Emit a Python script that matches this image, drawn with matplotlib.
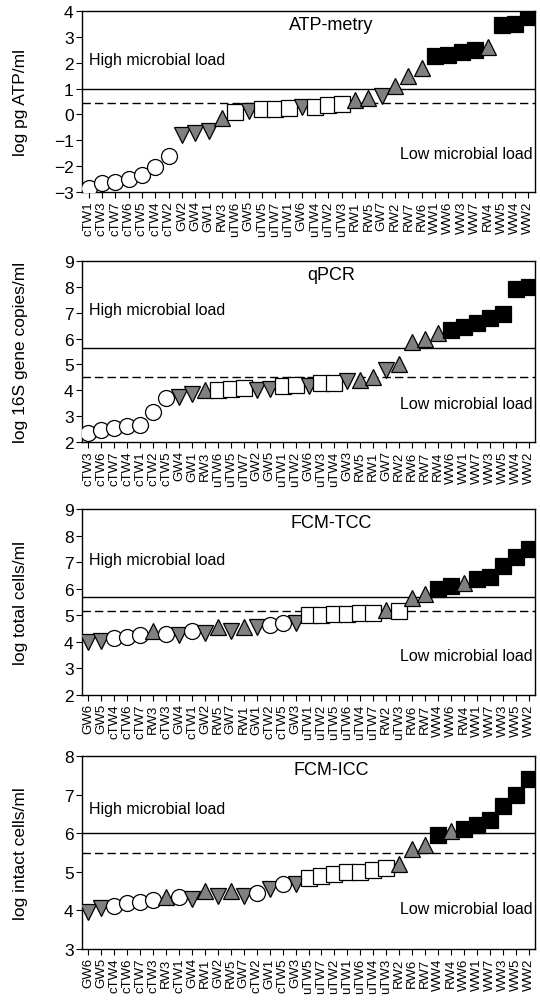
import matplotlib
matplotlib.use("Agg")
import matplotlib.pyplot as plt

plt.rcParams['font.family'] = ['Liberation Sans', 'DejaVu Sans']

# ---------------- data ----------------
atp_labels = ["cTW1", "cTW3", "cTW7", "cTW6", "cTW5", "cTW4", "cTW2", "GW2", "GW4", "GW1",
              "RW3", "uTW6", "GW5", "uTW5", "uTW7", "uTW1", "GW6", "uTW4", "uTW2", "uTW3",
              "RW1", "RW5", "GW7", "RW2", "RW7", "RW6", "WW1", "WW6", "WW3", "WW7",
              "RW4", "WW5", "WW4", "WW2"]
atp_values = [-2.85, -2.65, -2.6, -2.5, -2.35, -2.05, -1.6, -0.8, -0.7, -0.65,
              -0.15, 0.1, 0.15, 0.2, 0.2, 0.25, 0.3, 0.3, 0.35, 0.4,
              0.55, 0.65, 0.7, 1.1, 1.5, 1.8, 2.25, 2.3, 2.4, 2.5,
              2.6, 3.45, 3.5, 3.75]

qpcr_labels = ["cTW3", "cTW6", "cTW7", "cTW4", "cTW1", "cTW2", "cTW5", "GW4", "GW1", "RW3",
               "uTW6", "uTW5", "uTW7", "GW2", "GW5", "uTW1", "uTW2", "GW6", "uTW3", "uTW4",
               "GW3", "RW5", "RW1", "GW7", "RW2", "RW6", "RW7", "RW4", "WW6", "WW1",
               "WW7", "WW3", "WW5", "WW4", "WW2"]
qpcr_values = [2.35, 2.45, 2.55, 2.6, 2.65, 3.15, 3.7, 3.75, 3.85, 4.0,
               4.0, 4.05, 4.1, 4.0, 4.05, 4.15, 4.2, 4.15, 4.3, 4.3,
               4.35, 4.4, 4.5, 4.8, 5.0, 5.85, 6.0, 6.2, 6.35, 6.45,
               6.6, 6.8, 6.95, 7.9, 8.0]

tcc_labels = ["GW6", "GW5", "cTW4", "cTW6", "cTW7", "RW3", "cTW3", "GW4", "cTW1", "GW2",
              "RW5", "GW7", "RW1", "GW1", "cTW2", "cTW5", "GW3", "uTW1", "uTW2", "uTW5",
              "uTW6", "uTW4", "uTW7", "RW2", "uTW3", "RW6", "RW7", "WW4", "WW6", "RW4",
              "WW1", "WW7", "WW3", "WW5", "WW2"]
tcc_values = [4.0, 4.05, 4.15, 4.2, 4.25, 4.4, 4.3, 4.25, 4.4, 4.35,
              4.55, 4.4, 4.55, 4.55, 4.65, 4.7, 4.7, 5.0, 5.0, 5.05,
              5.05, 5.1, 5.1, 5.2, 5.15, 5.65, 5.8, 6.0, 6.1, 6.2,
              6.35, 6.45, 6.85, 7.2, 7.5]

icc_labels = ["GW6", "GW5", "cTW4", "cTW6", "cTW7", "cTW3", "RW3", "cTW1", "GW4", "RW1",
              "GW2", "RW5", "GW7", "cTW2", "GW1", "cTW5", "GW3", "uTW5", "uTW7", "uTW2",
              "uTW1", "uTW6", "uTW4", "uTW3", "RW2", "RW6", "RW7", "WW4", "RW4", "WW6",
              "WW1", "WW7", "WW3", "WW5", "WW2"]
icc_values = [3.95, 4.05, 4.12, 4.18, 4.21, 4.28, 4.36, 4.36, 4.3, 4.5,
              4.37, 4.51, 4.38, 4.44, 4.55, 4.68, 4.68, 4.84, 4.88, 4.95,
              5.0, 5.0, 5.05, 5.1, 5.2, 5.6, 5.7, 5.95, 6.05, 6.1,
              6.2, 6.35, 6.7, 7.0, 7.4]

titles = ["ATP-metry", "qPCR", "FCM-TCC", "FCM-ICC"]
ylabels = ["log pg ATP/ml", "log 16S gene copies/ml", "log total cells/ml", "log intact cells/ml"]
ylims = [(-3, 4), (2, 9), (2, 9), (3, 8)]
high_lines = [1.0, 5.65, 5.7, 6.0]
low_lines = [0.45, 4.5, 5.15, 5.5]

# marker style per sample type
styles = {
    "cTW": dict(marker="o", facecolor="white"),
    "uTW": dict(marker="s", facecolor="white"),
    "GW": dict(marker="v", facecolor="#808080"),
    "RW": dict(marker="^", facecolor="#808080"),
    "WW": dict(marker="s", facecolor="black"),
}

def stype(lbl):
    for k in ("cTW", "uTW", "GW", "RW", "WW"):
        if lbl.startswith(k):
            return k

fig = plt.figure(figsize=(5.4, 10.03), dpi=100)
W, H = 540.0, 1003.0
left, right = 82, 535
boxes = [(12, 193), (262, 443), (510, 696), (757, 950)]

datasets = [(atp_labels, atp_values), (qpcr_labels, qpcr_values),
            (tcc_labels, tcc_values), (icc_labels, icc_values)]

for i, ((labels, vals), (top, bot)) in enumerate(zip(datasets, boxes)):
    ax = fig.add_axes([left / W, 1 - bot / H, (right - left) / W, (bot - top) / H])
    n = len(labels)
    xs = list(range(1, n + 1))
    ax.axhline(high_lines[i], color="black", lw=1.0, zorder=1)
    ax.axhline(low_lines[i], color="black", lw=1.0, ls=(0, (6, 3)), zorder=1)
    for x, v, l in zip(xs, vals, labels):
        st = styles[stype(l)]
        ax.plot([x], [v], linestyle="none", marker=st["marker"], markersize=11.5,
                markerfacecolor=st["facecolor"], markeredgecolor="black",
                markeredgewidth=0.9, zorder=3)
    ax.set_xlim(0.5, n + 0.5)
    ax.set_ylim(*ylims[i])
    ax.set_yticks(range(ylims[i][0], ylims[i][1] + 1))
    ax.set_xticks(xs)
    ax.set_xticklabels(labels, rotation=90, fontsize=9.5)
    ax.tick_params(axis="y", labelsize=12.5, direction="out", length=4, pad=2)
    ax.tick_params(axis="x", direction="out", length=4, pad=2)
    ax.set_ylabel(ylabels[i], fontsize=12.5)
    ax.yaxis.set_label_coords(-0.12, 0.5)
    ax.text(0.55, 0.975, titles[i], transform=ax.transAxes, ha="center", va="top", fontsize=13)
    ax.text(0.015, 0.73, "High microbial load", transform=ax.transAxes, ha="left",
            va="center", fontsize=11.5)
    ax.text(0.995, 0.21, "Low microbial load", transform=ax.transAxes, ha="right",
            va="center", fontsize=11.5)
    for s in ax.spines.values():
        s.set_linewidth(1.0)

fig.savefig("out.png", dpi=100)
